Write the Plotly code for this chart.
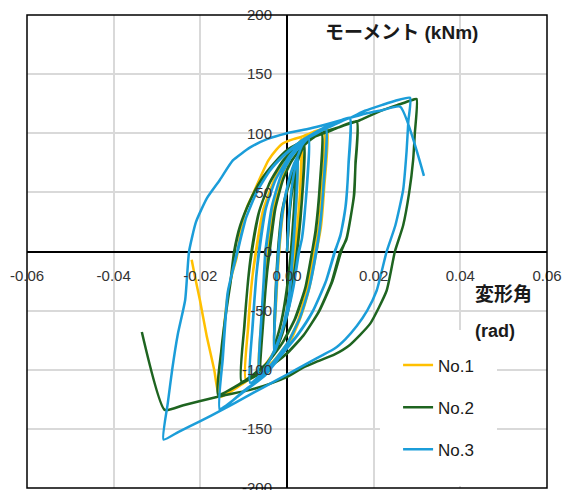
import plotly.graph_objects as go

# ---- data ----
series_names = ["No.1", "No.2", "No.3"]
series_colors = ["#FFC000", "#1E6420", "#1B9DD9"]

x_tick_vals = [-0.06, -0.04, -0.02, 0.0, 0.02, 0.04, 0.06]
x_tick_text = ["-0.06", "-0.04", "-0.02", "0.00", "0.02", "0.04", "0.06"]
y_tick_vals = [-200, -150, -100, -50, 0, 50, 100, 150, 200]
y_tick_text = ["-200", "-150", "-100", "-50", "0", "50", "100", "150", "200"]

y_title = "モーメント (kNm)"
x_title = "変形角"
x_unit = "(rad)"

no1_points = [
    (0, 0), (0.0006, 35), (0.0013, 58), (0.002, 72), (0.0025, 78),
    (0.0021, 40), (0.0014, 0), (0.0006, -35), (-0.0006, -60), (-0.0018, -74), (-0.003, -82),
    (-0.0026, -45), (-0.0019, 0), (-0.0009, 35), (0.0004, 58), (0.0014, 70), (0.0025, 78),
    (0.0021, 38), (0.0013, 0), (0.0005, -36), (-0.0007, -61), (-0.0019, -75), (-0.003, -82),
    (-0.0025, -42), (-0.0018, 0), (-0.0008, 36), (0.0005, 60), (0.0015, 72), (0.0025, 79),
    (0.003, 88), (0.0034, 95),
    (0.003, 50), (0.0022, 12), (0.0015, -15), (0.0005, -42), (-0.0012, -68), (-0.0032, -86), (-0.0065, -102),
    (-0.006, -65), (-0.0052, -25), (-0.0045, 0), (-0.003, 38), (-0.0012, 62), (0.0008, 80), (0.0034, 95),
    (0.003, 50), (0.0022, 10), (0.0014, -18), (0.0004, -44), (-0.0013, -70), (-0.0033, -88), (-0.0065, -102),
    (-0.006, -63), (-0.0051, -22), (-0.0044, 0), (-0.0029, 40), (-0.0011, 63), (0.0009, 81), (0.0034, 94),
    (0.0055, 99), (0.0085, 103),
    (0.008, 50), (0.0072, 18), (0.0062, 0), (0.0048, -30), (0.0028, -57), (0, -78), (-0.0035, -94), (-0.0095, -108),
    (-0.009, -65), (-0.0081, -25), (-0.0072, 0), (-0.0055, 35), (-0.003, 60), (0, 80), (0.004, 94), (0.0085, 103),
    (0.008, 48), (0.0071, 16), (0.0061, 0), (0.0047, -32), (0.0026, -58), (-0.0002, -80), (-0.0037, -95), (-0.0095, -108),
    (-0.0089, -62), (-0.008, -22), (-0.0071, 0), (-0.0054, 36), (-0.0029, 61), (0.0001, 81), (0.0041, 95), (0.0085, 103),
    (0.008, 48), (0.0071, 16), (0.0061, 0), (0.0046, -32), (0.0024, -60), (-0.0005, -82), (-0.0045, -98), (-0.0095, -110), (-0.0155, -123),
    (-0.0149, -82), (-0.0138, -40), (-0.0126, -18), (-0.0116, -5), (-0.0105, 21), (-0.0092, 38), (-0.0078, 49), (-0.006, 64),
    (-0.0043, 77), (-0.0025, 86), (-0.0009, 91.5), (0.0015, 95), (0.0034, 97), (0.006, 101), (0.0092, 104),
    (0.0086, 55), (0.0078, 20), (0.0068, 0), (0.0052, -30), (0.003, -57), (0.0002, -80), (-0.004, -97), (-0.0088, -108),
    (-0.0125, -116), (-0.0156, -122),
    (-0.0168, -100), (-0.0185, -72), (-0.0201, -41), (-0.0212, -22), (-0.022, -7),
]

no2_points = [
    (0, 0), (0.0006, 32), (0.0013, 55), (0.002, 70),
    (0.0016, 35), (0.0009, 0), (0, -32), (-0.0012, -58), (-0.0022, -72), (-0.003, -80),
    (-0.0027, -42), (-0.0021, 0), (-0.0012, 32), (0.0001, 52), (0.0011, 63), (0.002, 70),
    (0.0016, 33), (0.0009, 0), (-0.0001, -33), (-0.0013, -59), (-0.0023, -73), (-0.003, -80),
    (-0.0027, -40), (-0.0021, 0), (-0.0012, 33), (0.0001, 53), (0.0011, 64), (0.002, 71),
    (0.003, 82), (0.004, 90),
    (0.0035, 48), (0.0026, 10), (0.0018, -15), (0.0007, -42), (-0.001, -68), (-0.003, -86), (-0.006, -100),
    (-0.0055, -60), (-0.0047, -20), (-0.0041, 0), (-0.0028, 35), (-0.001, 60), (0.001, 76), (0.004, 90),
    (0.0035, 46), (0.0026, 8), (0.0017, -17), (0.0006, -44), (-0.0011, -70), (-0.0031, -87), (-0.006, -100),
    (-0.0055, -58), (-0.0046, -18), (-0.004, 0), (-0.0027, 36), (-0.0009, 61), (0.0011, 77), (0.004, 90),
    (0.006, 96), (0.008, 100),
    (0.0076, 58), (0.0066, 18), (0.0058, 0), (0.0043, -30), (0.002, -56), (-0.001, -77), (-0.0045, -94), (-0.0105, -110),
    (-0.0099, -65), (-0.009, -25), (-0.0082, 0), (-0.0065, 33), (-0.004, 58), (-0.001, 76), (0.003, 90), (0.008, 100),
    (0.0076, 56), (0.0066, 16), (0.0058, 0), (0.0042, -31), (0.0018, -57), (-0.0012, -78), (-0.0048, -95), (-0.0105, -110),
    (-0.0098, -62), (-0.0089, -22), (-0.0081, 0), (-0.0064, 34), (-0.0039, 59), (-0.0009, 77), (0.0031, 91), (0.008, 100),
    (0.012, 105), (0.0161, 110),
    (0.0158, 75), (0.0155, 48), (0.0138, 12), (0.0125, 0), (0.0105, -25), (0.0075, -50), (0.004, -70), (0, -86),
    (-0.005, -100), (-0.01, -110), (-0.0159, -121),
    (-0.0152, -85), (-0.0142, -55), (-0.0132, -30), (-0.0122, 0), (-0.0108, 22), (-0.0085, 43), (-0.006, 60),
    (-0.003, 74), (0, 85), (0.005, 95), (0.01, 102), (0.0161, 110),
    (0.0158, 73), (0.0154, 46), (0.0137, 10), (0.0123, 0), (0.0103, -26), (0.0073, -51), (0.0038, -71), (-0.0002, -87),
    (-0.0052, -101), (-0.0102, -111), (-0.0159, -121),
    (-0.0151, -82), (-0.0141, -52), (-0.0131, -28), (-0.0121, 0), (-0.0107, 23), (-0.0084, 44), (-0.0059, 61),
    (-0.0029, 75), (0.0001, 86), (0.0051, 96), (0.0101, 103), (0.0161, 110),
    (0.0168, 111), (0.0222, 119.7), (0.026, 124.5), (0.0284, 127.5), (0.0299, 129),
    (0.0295, 100), (0.0291, 77), (0.0282, 50), (0.0268, 22), (0.0249, 0), (0.023, -33), (0.0192, -61), (0.0145, -79),
    (0.011, -87), (0.007, -93), (0.0038, -98), (0, -106), (-0.004, -112), (-0.0085, -117), (-0.0162, -123),
    (-0.0239, -130), (-0.0282, -134),
    (-0.0335, -68),
]

no3_points = [
    (0, 0), (0.0005, 32), (0.0012, 57), (0.002, 73), (0.0025, 80),
    (0.0021, 42), (0.0014, 0), (0.0006, -35), (-0.0006, -60), (-0.0018, -75), (-0.003, -85),
    (-0.0027, -46), (-0.002, 0), (-0.001, 35), (0.0004, 60), (0.0015, 73), (0.0025, 80),
    (0.0021, 40), (0.0013, 0), (0.0005, -36), (-0.0007, -61), (-0.0019, -76), (-0.003, -86),
    (-0.0026, -44), (-0.0019, 0), (-0.0009, 36), (0.0005, 61), (0.0016, 74), (0.0025, 81),
    (0.0035, 90), (0.005, 96),
    (0.0045, 52), (0.0035, 12), (0.0028, 0), (0.0015, -30), (-0.0003, -58), (-0.0025, -80), (-0.0045, -95), (-0.0065, -105),
    (-0.006, -62), (-0.0054, -25), (-0.005, 0), (-0.0035, 38), (-0.0015, 63), (0.001, 80), (0.005, 96),
    (0.0045, 50), (0.0034, 10), (0.0027, 0), (0.0014, -31), (-0.0004, -59), (-0.0026, -81), (-0.0046, -96), (-0.0065, -105),
    (-0.006, -60), (-0.0053, -22), (-0.0049, 0), (-0.0034, 39), (-0.0014, 64), (0.0011, 81), (0.005, 96),
    (0.007, 100), (0.009, 104),
    (0.0085, 60), (0.0076, 20), (0.0068, 0), (0.0052, -30), (0.003, -56), (0, -78), (-0.004, -97), (-0.0085, -111),
    (-0.008, -65), (-0.0072, -25), (-0.0065, 0), (-0.005, 35), (-0.0027, 60), (0.0005, 80), (0.0045, 95), (0.009, 104),
    (0.0085, 58), (0.0075, 18), (0.0067, 0), (0.0051, -31), (0.0029, -57), (-0.0001, -79), (-0.0041, -98), (-0.0085, -111),
    (-0.0079, -62), (-0.0071, -22), (-0.0064, 0), (-0.0049, 36), (-0.0026, 61), (0.0006, 81), (0.0046, 96), (0.009, 104),
    (0.012, 109), (0.0145, 113),
    (0.0142, 75), (0.0136, 40), (0.0124, 15), (0.0111, 0), (0.009, -25), (0.006, -50), (0.0025, -70), (-0.0015, -88),
    (-0.005, -104), (-0.01, -118), (-0.0155, -134),
    (-0.0149, -92), (-0.0143, -60), (-0.0137, -35), (-0.0115, 0), (-0.0095, 28), (-0.007, 50), (-0.004, 68),
    (-0.001, 80), (0.003, 92), (0.008, 103), (0.0145, 113),
    (0.0142, 73), (0.0135, 38), (0.0123, 13), (0.011, 0), (0.0089, -26), (0.0059, -51), (0.0024, -71), (-0.0016, -89),
    (-0.0051, -105), (-0.0101, -119), (-0.0155, -133),
    (-0.0148, -90), (-0.0142, -58), (-0.0136, -33), (-0.0114, 0), (-0.0094, 29), (-0.0069, 51), (-0.0039, 69),
    (-0.0009, 81), (0.0031, 93), (0.0081, 104), (0.0145, 113),
    (0.018, 119), (0.022, 124), (0.025, 127.5), (0.0284, 130),
    (0.028, 110), (0.0276, 85), (0.0268, 52), (0.025, 22), (0.023, 0), (0.0207, -33), (0.0185, -50), (0.0161, -63),
    (0.0135, -74), (0.011, -82), (0.008, -88), (0.005, -94), (0, -104), (-0.005, -114), (-0.01, -124), (-0.015, -134),
    (-0.02, -143.5), (-0.025, -152.5), (-0.0285, -159),
    (-0.0275, -128), (-0.0265, -100), (-0.0252, -70), (-0.0235, -41), (-0.0226, 0), (-0.021, 25), (-0.0185, 45),
    (-0.0155, 60.5), (-0.0125, 77), (-0.0085, 88), (-0.0046, 95), (0, 100), (0.0053, 104), (0.01, 108.5),
    (0.0145, 113), (0.018, 116.5), (0.022, 119.5), (0.0261, 122.5),
    (0.0316, 64),
]

all_points = [no1_points, no2_points, no3_points]

fig = go.Figure()
for name, color, pts in zip(series_names, series_colors, all_points):
    xs = [p[0] for p in pts]
    ys = [p[1] for p in pts]
    fig.add_trace(go.Scatter(
        x=xs, y=ys, mode="lines", name=name, legendgroup=name,
        line=dict(color=color, width=2.5, shape="spline", smoothing=0.5),
    ))

axis_font = dict(family="Liberation Sans, Arial, sans-serif", size=15, color="#333333")

# Page body margin is removed by post_script, so the figure fills the 563x490 window.
fig.update_layout(
    width=563, height=490,
    margin=dict(l=27, r=16, t=15, b=2, autoexpand=False),
    paper_bgcolor="white", plot_bgcolor="white",
    font=dict(family="Liberation Sans, Arial, 'Noto Sans CJK JP', sans-serif", size=15, color="#1a1a1a"),
    showlegend=True,
    legend=dict(
        x=0.679, y=0.335, xanchor="left", yanchor="top",
        bgcolor="white", bordercolor="white", borderwidth=18,
        font=dict(family="Liberation Sans, Arial, sans-serif", size=17, color="#1a1a1a"),
        traceorder="grouped", tracegroupgap=17,
    ),
    xaxis=dict(
        range=[-0.06, 0.06], tickmode="array", tickvals=x_tick_vals, ticktext=x_tick_text,
        showgrid=True, gridcolor="#d9d9d9", gridwidth=2,
        zeroline=True, zerolinecolor="black", zerolinewidth=1.5,
        showline=False, ticks="", anchor="free", position=0.5, automargin=False,
        ticklabelstandoff=13, tickfont=axis_font, ticklabeloverflow="allow",
    ),
    yaxis=dict(
        range=[-200, 200], tickmode="array", tickvals=y_tick_vals, ticktext=y_tick_text,
        showgrid=True, gridcolor="#d9d9d9", gridwidth=2,
        zeroline=True, zerolinecolor="black", zerolinewidth=1.5,
        showline=False, ticks="", anchor="free", position=0.5, automargin=False,
        ticklabelstandoff=15, tickfont=axis_font, ticklabeloverflow="allow",
    ),
    shapes=[dict(type="rect", xref="paper", yref="paper", x0=0, y0=0, x1=1, y1=1,
                 line=dict(color="black", width=1.5), fillcolor="rgba(0,0,0,0)", layer="above")],
    annotations=[
        dict(text="<b>" + y_title + "</b>", xref="paper", yref="paper", x=0.721, y=0.962,
             xanchor="center", yanchor="middle", showarrow=False,
             font=dict(family="Liberation Sans, 'Noto Sans CJK JP', sans-serif", size=19, color="#1a1a1a")),
        dict(text="<b>" + x_title + "</b>", xref="paper", yref="paper", x=0.858, y=0.414,
             xanchor="left", yanchor="middle", showarrow=False,
             font=dict(family="'Noto Sans CJK JP', sans-serif", size=19, color="#1a1a1a")),
        dict(text="<b>" + x_unit + "</b>", xref="paper", yref="paper", x=0.858, y=0.332,
             xanchor="left", yanchor="middle", showarrow=False,
             font=dict(family="Liberation Sans, Arial, sans-serif", size=18, color="#1a1a1a")),
    ],
)

fig.write_html(
    "out.html",
    config={"displayModeBar": False},
    post_script="document.body.style.margin='0';document.body.style.overflow='hidden';",
)
